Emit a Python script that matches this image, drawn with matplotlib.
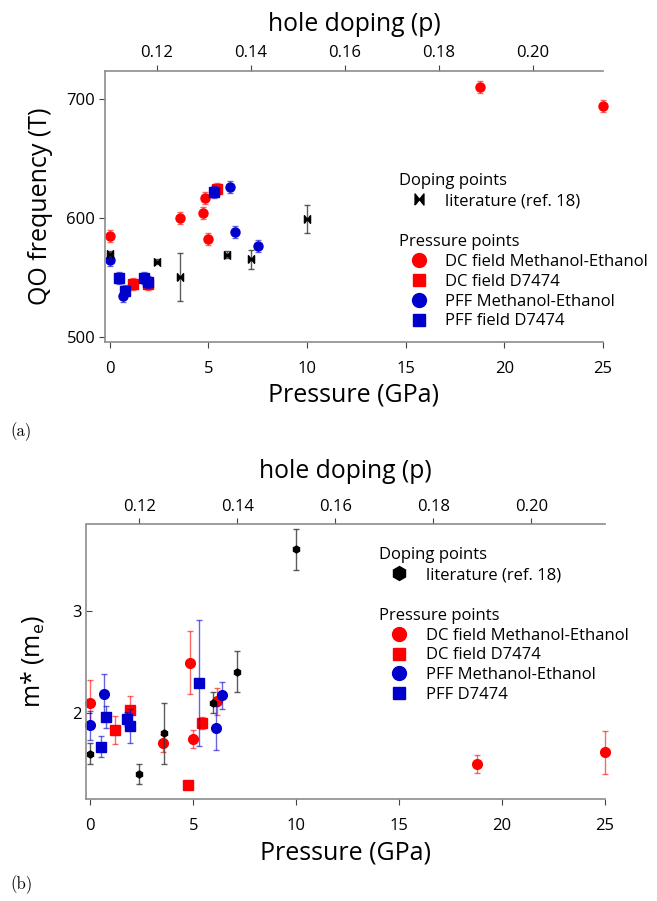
import matplotlib
matplotlib.use('Agg')
import matplotlib.pyplot as plt
from matplotlib.lines import Line2D
import numpy as np

plt.rcParams['font.family'] = ['Open Sans', 'DejaVu Sans']
plt.rcParams['mathtext.fontset'] = 'custom'
plt.rcParams['mathtext.rm'] = 'Open Sans'

RED = '#ff0000'
BLUE = '#0000cc'
SPINE = '#8c8c8c'

# ---- panel (a): QO frequency vs pressure ----
a_dc_me_P = [0.0, 3.55, 4.75, 4.85, 4.99, 18.79, 24.99]
a_dc_me_f = [584.5, 600, 604, 617, 582.5, 710, 694]
a_dc_me_e = [5, 5, 5, 5, 5, 5, 5]

a_dc_d7_P = [1.2, 1.93, 5.43]
a_dc_d7_f = [544, 544, 624]
a_dc_d7_e = [5, 5, 5]

a_pff_me_P = [0.0, 0.67, 6.1, 6.37, 7.5]
a_pff_me_f = [564.6, 534, 625.8, 587.9, 576.4]
a_pff_me_e = [5, 5, 5, 5, 5]

a_pff_d7_P = [0.5, 0.8, 1.76, 1.93, 5.29]
a_pff_d7_f = [549.4, 538.8, 549.4, 546, 621.9]
a_pff_d7_e = [5, 5, 5, 5, 5]

a_lit_P = [0.0, 2.39, 3.55, 5.93, 7.15, 10.0]
a_lit_f = [569.9, 563.2, 550, 569, 565, 599.2]
a_lit_e = [2, 2, 20, 3, 8, 12]

# ---- panel (b): effective mass vs pressure ----
b_lit_P = [0.0, 2.38, 3.58, 5.96, 7.14, 10.0]
b_lit_m = [1.60, 1.40, 1.80, 2.10, 2.40, 3.60]
b_lit_e = [0.1, 0.1, 0.3, 0.1, 0.2, 0.2]

b_dc_me_P = [0.0, 3.53, 4.82, 5.0, 6.17, 18.79, 24.99]
b_dc_me_m = [2.095, 1.70, 2.49, 1.745, 2.11, 1.50, 1.61]
b_dc_me_e = [0.23, 0.09, 0.31, 0.09, 0.135, 0.088, 0.21]

b_dc_d7_P = [1.18, 1.9, 4.73, 5.42]
b_dc_d7_m = [1.83, 2.03, 1.294, 1.90]
b_dc_d7_e = [0.134, 0.13, 0.0, 0.055]

b_pff_me_P = [0.0, 0.67, 6.1, 6.39]
b_pff_me_m = [1.876, 2.18, 1.85, 2.17]
b_pff_me_e = [0.144, 0.2, 0.215, 0.13]

b_pff_d7_P = [0.5, 0.76, 1.77, 1.93, 5.26]
b_pff_d7_m = [1.667, 1.96, 1.935, 1.87, 2.29]
b_pff_d7_e = [0.1, 0.11, 0.07, 0.17, 0.62]

doping_ticks = [0.12, 0.14, 0.16, 0.18, 0.20]


# pressure <-> hole doping conversion
def to_p(P):
    return 0.110 + 0.0042 * np.asarray(P)


def to_P(p):
    return (np.asarray(p) - 0.110) / 0.0042


# bowtie marker for the literature points
BOWTIE = [(-0.8, -1), (-0.8, 1), (0, 0), (0.8, 1), (0.8, -1), (0, 0), (-0.8, -1)]


def pts(ax, x, y, e, color, marker, ms, ecolor, alpha=0.6):
    ax.errorbar(x, y, yerr=e, fmt='none', ecolor=ecolor, elinewidth=1.0,
                capsize=2.5, capthick=1.0, alpha=alpha, clip_on=False)
    ax.plot(x, y, linestyle='none', marker=marker, ms=ms, color=color,
            mec=color, clip_on=False)


def style_axes(ax, ylabel, yin, ylabelpad, toppad):
    ax.set_xlim(-0.23, 25)
    ax.set_xticks([0, 5, 10, 15, 20, 25])
    for s in ['top', 'right']:
        ax.spines[s].set_visible(False)
    for s in ['left', 'bottom']:
        ax.spines[s].set_color(SPINE)
        ax.spines[s].set_linewidth(1.2)
    ax.tick_params(axis='x', direction='out', length=4, width=0.8, color='#444444',
                   labelsize=12, pad=10)
    ax.tick_params(axis='y', direction='in' if yin else 'out', length=4, width=0.8,
                   color='#444444', labelsize=12, pad=3)
    ax.set_xlabel('Pressure (GPa)', fontsize=18, labelpad=4)
    ax.set_ylabel(ylabel, fontsize=18, labelpad=ylabelpad)

    sec = ax.secondary_xaxis('top', functions=(to_p, to_P))
    sec.set_xticks(doping_ticks)
    sec.set_xticklabels(['%.2f' % t for t in doping_ticks])
    sec.tick_params(direction='out', length=4, width=0.8, color='#444444',
                    labelsize=12, pad=3)
    sec.spines['top'].set_color(SPINE)
    sec.spines['top'].set_linewidth(1.2)
    sec.set_xlabel('hole doping (p)', fontsize=17.8, labelpad=toppad)


def add_legends(ax, lit_marker, lit_ms, pff_d7_label, x0, y_dop, y_pr):
    common = dict(frameon=False, fontsize=12, title_fontsize=12, alignment='left',
                  handlelength=2.4, handletextpad=0.4, labelspacing=0.23,
                  borderpad=0, borderaxespad=0, loc='upper left')
    h1 = [Line2D([], [], ls='none', marker=lit_marker, ms=lit_ms, color='black')]
    leg1 = ax.legend(h1, ['literature (ref. 18)'], title='Doping points',
                     bbox_to_anchor=(x0, y_dop), **common)
    ax.add_artist(leg1)
    h2 = [Line2D([], [], ls='none', marker='o', ms=10, color=RED),
          Line2D([], [], ls='none', marker='s', ms=9, color=RED),
          Line2D([], [], ls='none', marker='o', ms=10, color=BLUE),
          Line2D([], [], ls='none', marker='s', ms=9, color=BLUE)]
    labels = ['DC field Methanol-Ethanol', 'DC field D7474',
              'PFF Methanol-Ethanol', pff_d7_label]
    ax.legend(h2, labels, title='Pressure points',
              bbox_to_anchor=(x0, y_pr), **common)


fig = plt.figure(figsize=(6.57, 9.01), dpi=100)

# panel (a)
ax1 = fig.add_axes([105 / 657, 1 - 342 / 901, 498 / 657, 271 / 901])
pts(ax1, a_dc_me_P, a_dc_me_f, a_dc_me_e, RED, 'o', 6.5, RED)
pts(ax1, a_dc_d7_P, a_dc_d7_f, a_dc_d7_e, RED, 's', 6.5, RED)
pts(ax1, a_pff_me_P, a_pff_me_f, a_pff_me_e, BLUE, 'o', 6.5, BLUE)
pts(ax1, a_pff_d7_P, a_pff_d7_f, a_pff_d7_e, BLUE, 's', 6.5, BLUE)
pts(ax1, a_lit_P, a_lit_f, a_lit_e, 'black', BOWTIE, 5.5, '#333333', alpha=0.8)
ax1.set_ylim(495.5, 723.6)
ax1.set_yticks([500, 600, 700])
style_axes(ax1, 'QO frequency (T)', False, 10, 10)
add_legends(ax1, BOWTIE, 8, 'PFF field D7474', 0.59, 0.623, 0.398)

# panel (b)
ax2 = fig.add_axes([85.7 / 657, 1 - 799 / 901, 519.3 / 657, 274.5 / 901])
pts(ax2, b_dc_me_P, b_dc_me_m, b_dc_me_e, RED, 'o', 7, RED)
pts(ax2, b_dc_d7_P, b_dc_d7_m, b_dc_d7_e, RED, 's', 6.5, RED)
pts(ax2, b_pff_me_P, b_pff_me_m, b_pff_me_e, BLUE, 'o', 7, BLUE)
pts(ax2, b_pff_d7_P, b_pff_d7_m, b_pff_d7_e, BLUE, 's', 6.5, BLUE)
pts(ax2, b_lit_P, b_lit_m, b_lit_e, 'black', 'h', 5, '#333333', alpha=0.8)
ax2.set_ylim(1.154, 3.845)
ax2.set_yticks([2, 3])
style_axes(ax2, r'm* (m$_\mathregular{e}$)', True, 19, 15)
add_legends(ax2, 'h', 10, 'PFF D7474', 0.565, 0.917, 0.697)

fig.text(10 / 657, 1 - 432 / 901, '(a)', family='cmr10', fontsize=12, va='center')
fig.text(10 / 657, 1 - 885 / 901, '(b)', family='cmr10', fontsize=12, va='center')

fig.savefig('out.png', dpi=100)
